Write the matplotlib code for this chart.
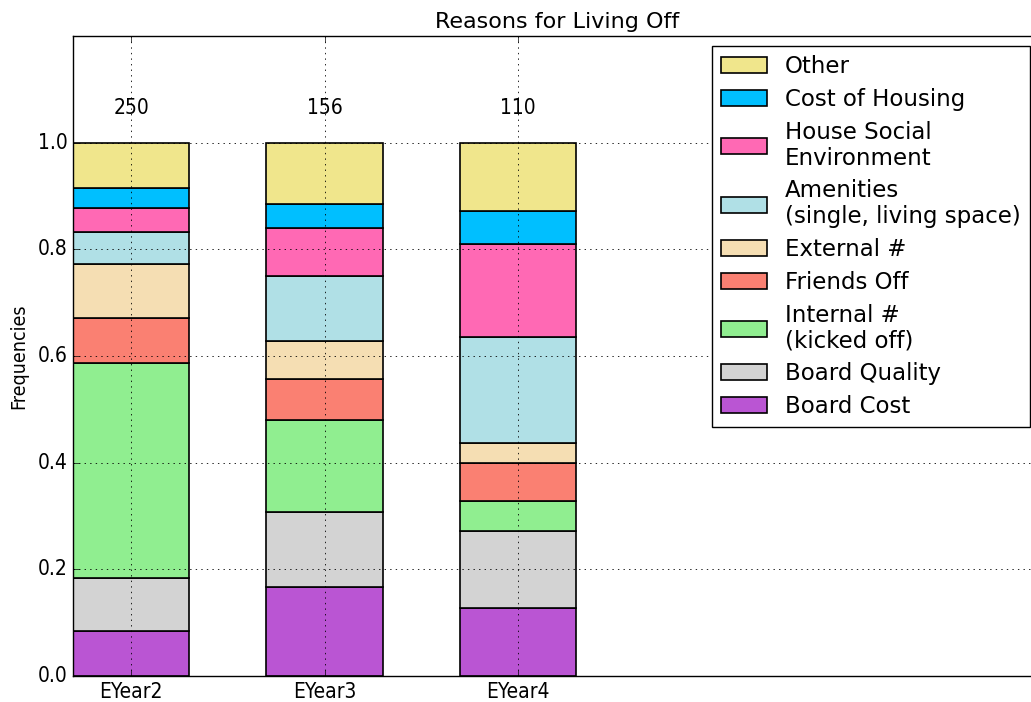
import matplotlib
matplotlib.use("Agg")
import matplotlib.pyplot as plt
import numpy as np

plt.style.use('classic')

categories = ["EYear2", "EYear3", "EYear4"]
totals = [250, 156, 110]
labels = ["Board Cost", "Board Quality", "Internal #\n(kicked off)", "Friends Off",
          "External #", "Amenities\n(single, living space)", "House Social\nEnvironment",
          "Cost of Housing", "Other"]
colors = ["#BA55D3", "#D3D3D3", "#90EE90", "#FA8072", "#F5DEB3", "#B0E0E6",
          "#FF69B4", "#00BFFF", "#F0E68C"]

# fractions per reason (bottom to top) for each year
board_cost      = [0.084, 26/156, 14/110]
board_quality   = [0.100, 22/156, 16/110]
internal        = [0.403, 27/156, 6/110]
friends_off     = [0.085, 12/156, 8/110]
external        = [0.100, 11/156, 4/110]
amenities       = [0.060, 19/156, 22/110]
house_social    = [0.046, 14/156, 19/110]
cost_housing    = [0.037, 7/156, 7/110]
other           = [0.085, 18/156, 14/110]

series = [board_cost, board_quality, internal, friends_off, external,
          amenities, house_social, cost_housing, other]

fig = plt.figure(figsize=(10.31, 7.02), dpi=100, facecolor='white')
ax = fig.add_axes([73/1031, 26/702, 967.5/1031, 640/702])

x = np.arange(len(categories))
bottom = np.zeros(len(categories))
handles = []
for vals, lab, col in zip(series, labels, colors):
    b = ax.bar(x, vals, 0.6, bottom=bottom, color=col, edgecolor='black',
               linewidth=1.2, label=lab, align='center')
    handles.append(b)
    bottom += np.array(vals)

for xi, t in zip(x, totals):
    ax.text(xi, 1.065, str(t), ha='center', va='center', fontsize=15, fontstretch='condensed')

ax.set_xlim(-0.3, 4.7)
ax.set_ylim(0, 1.2)
ax.set_xticks(x)
ax.set_xticklabels(categories, fontsize=15, fontstretch='condensed')
ax.set_yticks([0.0, 0.2, 0.4, 0.6, 0.8, 1.0])
ax.set_yticklabels(["0.0", "0.2", "0.4", "0.6", "0.8", "1.0"], fontsize=15, fontstretch='condensed')
ax.set_ylabel("Frequencies", fontsize=14, fontstretch='condensed', labelpad=7)
ax.grid(True, color='k', linestyle=':', linewidth=0.6)
ax.set_axisbelow(False)

ax.set_title("Reasons for Living Off", fontsize=16, pad=6)

leg = fig.legend(handles[::-1], labels[::-1], loc='upper right',
                 bbox_to_anchor=(1030/1031, 1 - 46/702), bbox_transform=fig.transFigure,
                 borderaxespad=0, fontsize=16.5, labelspacing=0.43,
                 frameon=True, fancybox=False)
for t in leg.get_texts():
    t.set_linespacing(1.15)
leg.get_frame().set_edgecolor('black')

fig.savefig("out.png", dpi=100, facecolor='white')
